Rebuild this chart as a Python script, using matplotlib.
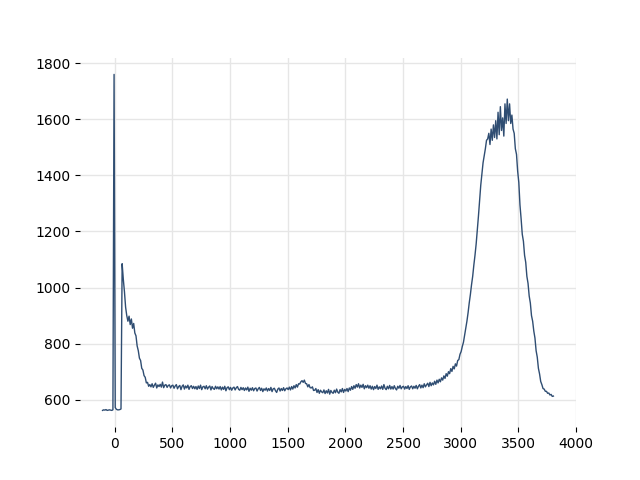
import numpy as np
import matplotlib
matplotlib.use("Agg")
import matplotlib.pyplot as plt

x_start, x_step = -106, 10

y_values = [
    # -106 .. -16
    562, 564, 563, 565, 562, 563, 564, 563, 562, 564,
    # -6 spike
    1760,
    # 4 .. 54
    572, 566, 564, 564, 565, 567,
    # 64
    1085,
    # 74 .. 294
    1030, 985, 930, 900, 880, 898, 868, 888, 855, 872, 838, 828, 792, 775,
    748, 740, 712, 706, 686, 680, 660, 662, 648,
    # 304 .. 494
    654, 646, 657, 644, 652, 659, 642, 653, 647, 655, 645, 663, 643, 652, 654, 644, 651, 653, 642, 650,
    # 504 .. 694
    652, 641, 649, 654, 639, 647, 651, 636, 648, 653, 638, 649, 642, 652, 637, 647, 650, 640, 648, 639,
    # 704 .. 894
    647, 637, 649, 640, 652, 636, 646, 648, 639, 650, 638, 645, 649, 635, 647, 640, 637, 648, 639, 646,
    # 904 .. 1094
    638, 647, 635, 645, 637, 648, 632, 643, 646, 636, 644, 634, 642, 645, 635, 643, 647, 637, 634, 644,
    # 1104 .. 1294
    636, 643, 633, 642, 635, 645, 630, 641, 634, 643, 632, 640, 642, 631, 639, 644, 633, 641, 629, 639,
    # 1304 .. 1494
    634, 642, 631, 640, 633, 644, 629, 639, 641, 632, 626, 638, 642, 631, 640, 633, 643, 632, 639, 642,
    # 1504 .. 1994
    636, 645, 635, 647, 638, 650, 642, 654, 645, 657,
    656, 664, 668, 662, 670, 658, 657, 646, 654, 643,
    642, 646, 633, 634, 640, 626, 636, 623, 634, 628,
    625, 635, 622, 632, 624, 637, 620, 633, 626, 623,
    634, 625, 638, 627, 623, 636, 628, 640, 626, 637,
    # 2004 .. 2494
    631, 640, 629, 642, 634, 647, 637, 650, 641, 654,
    645, 657, 642, 652, 644, 655, 639, 650, 643, 652,
    641, 650, 638, 648, 636, 647, 640, 652, 637, 646,
    639, 649, 637, 654, 641, 636, 648, 639, 651, 638,
    647, 638, 650, 640, 635, 648, 641, 651, 639, 646,
    # 2504 .. 2994
    648, 638, 647, 640, 650, 637, 646, 649, 639, 648,
    641, 651, 639, 648, 654, 642, 652, 643, 657, 646,
    653, 659, 647, 662, 650, 660, 653, 666, 655, 670,
    660, 673, 664, 678, 670, 685, 676, 693, 684, 700,
    693, 711, 701, 719, 710, 728, 720, 740, 743, 762,
    # 3004 .. 3494
    772, 790, 805, 830, 855, 880, 910, 945, 975, 1010,
    1040, 1080, 1115, 1155, 1205, 1255, 1310, 1365, 1405, 1445,
    1470, 1495, 1525, 1530, 1550, 1510, 1565, 1525, 1580, 1535,
    1595, 1530, 1625, 1545, 1645, 1560, 1605, 1540, 1655, 1585,
    1672, 1595, 1655, 1585, 1615, 1565, 1550, 1495, 1475, 1415,
    # 3504 .. 3694
    1375, 1295, 1245, 1190, 1165, 1115, 1090, 1040, 1015, 970,
    945, 900, 880, 845, 820, 775, 752, 712, 692, 665,
    # 3704 .. 3804
    654, 640, 638, 630, 630, 623, 624, 617, 619, 612, 613,
]

x_values = x_start + x_step * np.arange(len(y_values))

fig, ax = plt.subplots(figsize=(6.4, 4.8), dpi=100)
ax.plot(x_values, y_values, color="#2f4d72", linewidth=1.0)
ax.grid(True, color="#e6e6e6", linewidth=1.0)
ax.set_axisbelow(True)
for s in ax.spines.values():
    s.set_visible(False)
ax.set_xticks([0, 500, 1000, 1500, 2000, 2500, 3000, 3500, 4000])
ax.set_yticks([600, 800, 1000, 1200, 1400, 1600, 1800])
fig.savefig("out.png", dpi=100)
